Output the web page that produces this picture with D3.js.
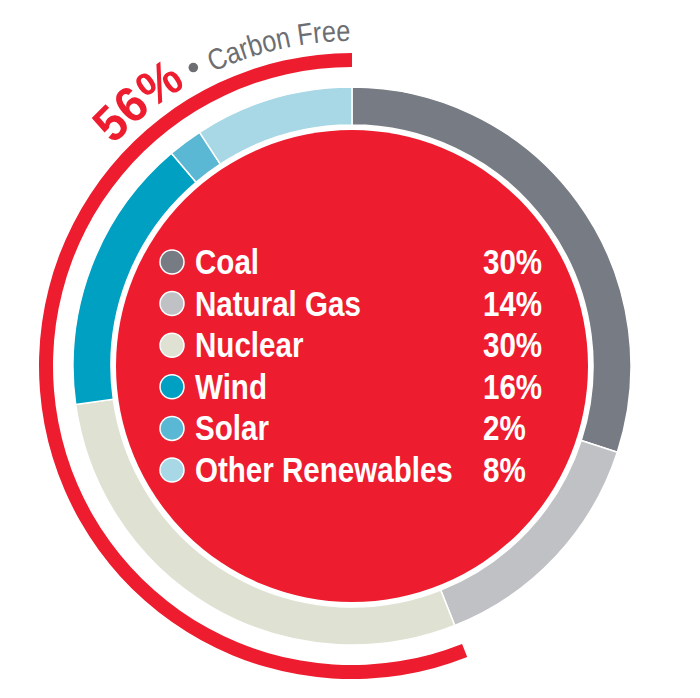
<!DOCTYPE html>
<html>
<head>
<meta charset="utf-8">
<script src="https://cdn.jsdelivr.net/npm/d3@7"></script>
<style>
  html, body { margin: 0; padding: 0; background: #fff; }
</style>
</head>
<body>
<svg id="chart"></svg>
<script>
// data
const categories = ["Coal", "Natural Gas", "Nuclear", "Wind", "Solar", "Other Renewables"];
const ringShares = [30, 14, 28.8, 16, 2, 9.2];          // share of ring as drawn
const legendValues = ["30%", "14%", "30%", "16%", "2%", "8%"];
const carbonFree = ["Nuclear", "Wind", "Solar", "Other Renewables"];
const headline = "56%";
const headlineLabel = "Carbon Free";

const colors = ["#777b83", "#bfc1c4", "#dfe2d3", "#00a0c3", "#5bb8d4", "#a8d8e6"];
const red = "#ed1c2e";
const grey = "#6d6e72";

const width = 700, height = 698;
const cx = 352, cy = 366;

const svg = d3.select("#chart")
    .attr("width", width)
    .attr("height", height);

const g = svg.append("g")
    .attr("transform", "translate(" + cx + "," + cy + ")");

const deg = Math.PI / 180;

// ring
const data = categories.map((c, i) => ({ name: c, value: ringShares[i] }));
const pie = d3.pie().sort(null).value(d => d.value);
const arcs = pie(data);

const ringArc = d3.arc().innerRadius(241).outerRadius(279);

g.selectAll("path.slice")
    .data(arcs)
    .join("path")
    .attr("class", "slice")
    .attr("d", ringArc)
    .attr("fill", (d, i) => colors[i])
    .attr("stroke", "#fff")
    .attr("stroke-width", 1.5);

// red centre
g.append("circle")
    .attr("r", 236)
    .attr("fill", red);

// carbon free outer arc
const cfArcs = arcs.filter(d => carbonFree.includes(d.data.name));
const cfStart = d3.min(cfArcs, d => d.startAngle);
const cfEnd = d3.max(cfArcs, d => d.endAngle);

g.append("path")
    .attr("d", d3.arc().innerRadius(299).outerRadius(313).startAngle(cfStart).endAngle(cfEnd)())
    .attr("fill", red);

// curved headline text
const rText = 325;
const pt = (a, r) => [r * Math.sin(a), -r * Math.cos(a)];
const a0 = -90 * deg, a1 = 0;
const p0 = pt(a0, rText), p1 = pt(a1, rText);
g.append("path")
    .attr("id", "textArc")
    .attr("fill", "none")
    .attr("d", "M" + p0[0] + "," + p0[1] + " A" + rText + "," + rText + " 0 0 1 " + p1[0] + "," + p1[1]);

const offsetAt = a => (a - a0) * rText;

// "Carbon Free" ends at the top
g.append("text")
    .attr("font-family", "'Liberation Sans', Arial, sans-serif")
    .attr("font-size", 30)
    .attr("fill", grey)
    .append("textPath")
    .attr("href", "#textArc")
    .attr("startOffset", offsetAt(-0.3 * deg))
    .attr("text-anchor", "end")
    .attr("textLength", 142)
    .attr("lengthAdjust", "spacingAndGlyphs")
    .text(headlineLabel);

// "56%"
g.append("text")
    .attr("font-family", "'Liberation Sans', Arial, sans-serif")
    .attr("font-weight", "bold")
    .attr("font-size", 50)
    .attr("fill", red)
    .append("textPath")
    .attr("href", "#textArc")
    .attr("startOffset", offsetAt(-30.6 * deg))
    .attr("text-anchor", "end")
    .attr("textLength", 94)
    .attr("lengthAdjust", "spacingAndGlyphs")
    .text(headline);

// separator dot
const dot = pt(-28 * deg, 338);
g.append("circle")
    .attr("cx", dot[0])
    .attr("cy", dot[1])
    .attr("r", 4.8)
    .attr("fill", grey);

// legend
const legend = svg.append("g").attr("class", "legend");
const y = d3.scalePoint().domain(categories).range([262, 470]);

legend.selectAll("circle")
    .data(categories)
    .join("circle")
    .attr("cx", 172)
    .attr("cy", d => y(d))
    .attr("r", 12)
    .attr("fill", (d, i) => colors[i])
    .attr("stroke", "#fff")
    .attr("stroke-width", 1.5);

const labels = legend.selectAll("text.label")
    .data(categories)
    .join("text")
    .attr("class", "label")
    .attr("font-family", "'Liberation Sans', Arial, sans-serif")
    .attr("font-weight", "bold")
    .attr("font-size", 35)
    .attr("fill", "#fff")
    .text(d => d);

// squeeze to look condensed
const longest = labels.filter(d => d === "Other Renewables").node().getComputedTextLength();
const sx = 258 / longest;

labels.attr("transform", d => "translate(195," + (y(d) + 12) + ") scale(" + sx + ",1)");

legend.selectAll("text.value")
    .data(categories)
    .join("text")
    .attr("class", "value")
    .attr("font-family", "'Liberation Sans', Arial, sans-serif")
    .attr("font-weight", "bold")
    .attr("font-size", 35)
    .attr("fill", "#fff")
    .attr("transform", d => "translate(483," + (y(d) + 12) + ") scale(" + sx + ",1)")
    .text((d, i) => legendValues[i]);
</script>
</body>
</html>
